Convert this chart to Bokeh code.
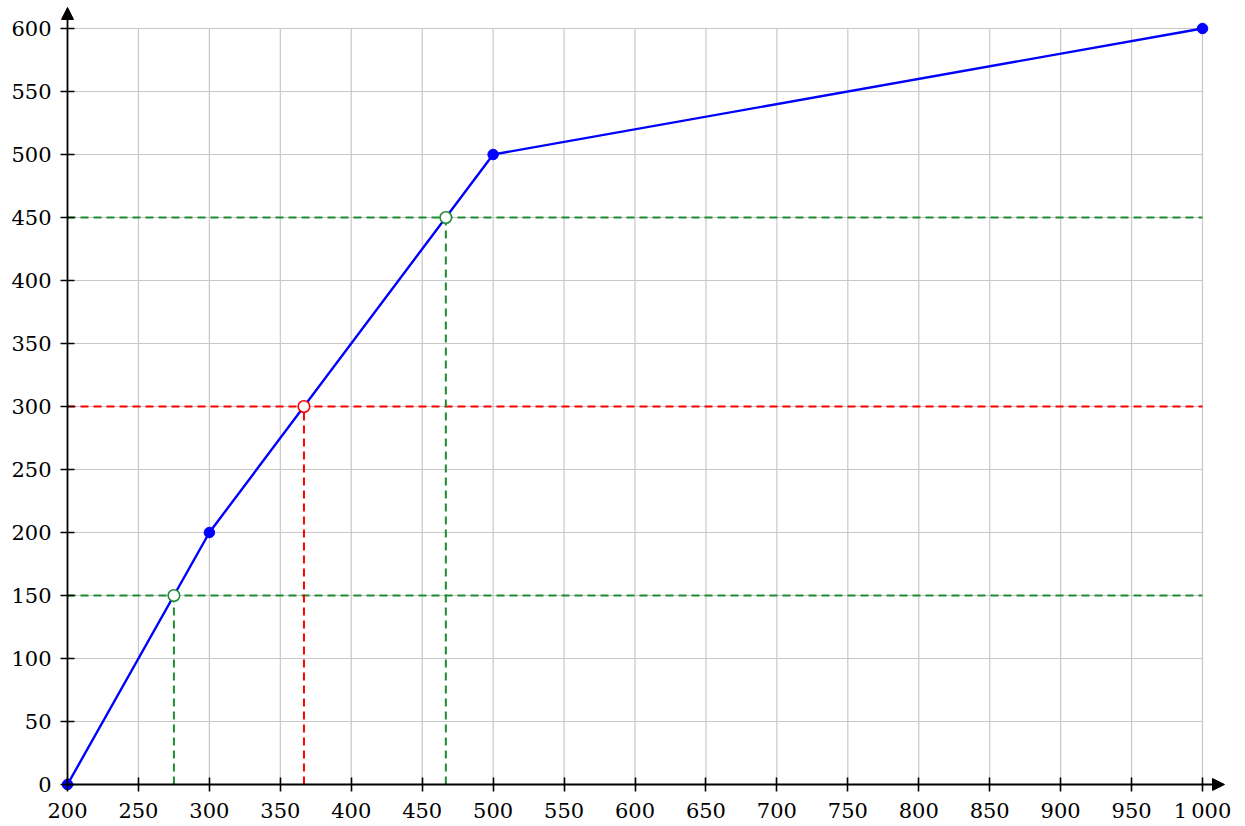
from bokeh.plotting import figure
from bokeh.models import FixedTicker, Range1d, Arrow, NormalHead, ColumnDataSource
from bokeh.embed import file_html
from bokeh.resources import INLINE

# Data: cumulative frequency polygon
x_pts = [200, 300, 500, 1000]
y_pts = [0, 200, 500, 600]

# Quartile readings (Q1, median, Q3)
q_x = [275, 366.67, 466.67]
q_y = [150, 300, 450]
q_colors = ["#1e8c32", "#ff0000", "#1e8c32"]

x_ticks = [200, 250, 300, 350, 400, 450, 500, 550, 600, 650, 700, 750, 800, 850, 900, 950, 1000]
y_ticks = [0, 50, 100, 150, 200, 250, 300, 350, 400, 450, 500, 550, 600]
x_lo, x_hi = 200, 1000
y_lo, y_hi = 0, 600

FONT = "DejaVu Serif"

p = figure(width=1240, height=824, output_backend="svg", toolbar_location=None,
           x_range=Range1d(152.775, 1026.78), y_range=Range1d(-31.746, 622.22),
           min_border=0, outline_line_color=None)
p.xgrid.visible = False
p.ygrid.visible = False

# grid
p.segment(x0=x_ticks[1:], y0=y_lo, x1=x_ticks[1:], y1=y_hi, line_color="#c8c8c8", line_width=1.2)
p.segment(x0=x_lo, y0=y_ticks[1:], x1=x_hi, y1=y_ticks[1:], line_color="#c8c8c8", line_width=1.2)

# axes at fixed locations
for ax, loc in ((p.xaxis[0], 0), (p.yaxis[0], 200)):
    ax.fixed_location = loc
    ax.axis_line_color = None
    ax.major_tick_in = 7
    ax.major_tick_out = 7
    ax.major_tick_line_width = 1.6
    ax.major_tick_line_color = "black"
    ax.minor_tick_line_color = None
    ax.major_label_text_font = FONT
    ax.major_label_text_font_size = "21px"
    ax.major_label_text_color = "black"
p.xaxis[0].ticker = FixedTicker(ticks=x_ticks)
p.yaxis[0].ticker = FixedTicker(ticks=y_ticks)
p.xaxis[0].major_label_overrides = {1000: "1\u2009000"}
p.xaxis[0].major_label_standoff = 8
p.yaxis[0].major_label_standoff = 9

# axis lines with arrows
p.add_layout(Arrow(end=NormalHead(size=12, fill_color="black", line_color="black", line_width=1),
                   x_start=200, y_start=0, x_end=1015.5, y_end=0, line_width=1.8, line_color="black"))
p.add_layout(Arrow(end=NormalHead(size=12, fill_color="black", line_color="black", line_width=1),
                   x_start=200, y_start=0, x_end=200, y_end=616.7, line_width=1.8, line_color="black"))

# dashed reading lines
for qx, qy, c in zip(q_x, q_y, q_colors):
    p.segment(x0=[x_lo], y0=[qy], x1=[x_hi], y1=[qy], line_color=c, line_width=2, line_dash="8 5")
    p.segment(x0=[qx], y0=[y_lo], x1=[qx], y1=[qy], line_color=c, line_width=2, line_dash="8 5")

# polygon
p.line(x_pts, y_pts, line_color="#0000ff", line_width=2.4)
p.scatter(x_pts, y_pts, size=10.5, fill_color="#0000ff", line_color="#0000ff")

src = ColumnDataSource(dict(x=q_x, y=q_y, c=q_colors))
p.scatter("x", "y", source=src, size=11.5, fill_color="white", line_color="c", line_width=1.6)

open("out.html", "w").write(file_html(p, INLINE))
